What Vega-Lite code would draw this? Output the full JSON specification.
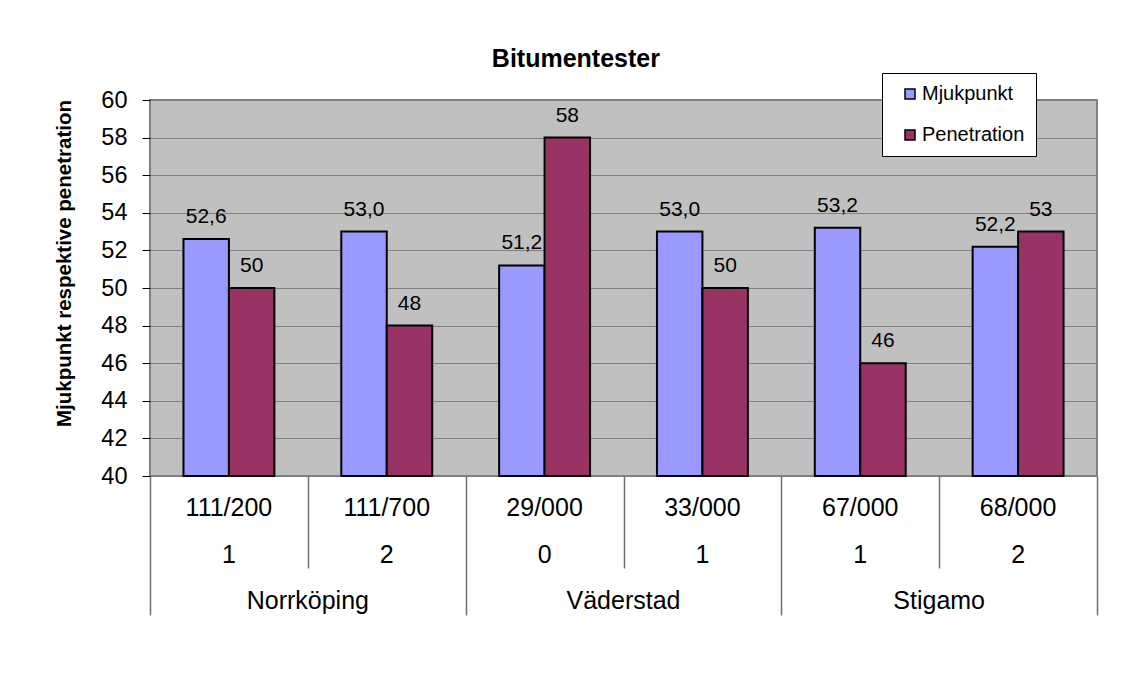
{
  "$schema": "https://vega.github.io/schema/vega-lite/v6.json",
  "width": 947,
  "height": 376,
  "autosize": {"type": "none"},
  "padding": {"left": 150, "top": 100, "right": 38, "bottom": 203},
  "background": "white",
  "title": {
    "text": "Bitumentester",
    "font": "Liberation Sans",
    "fontSize": 25,
    "fontWeight": "bold",
    "color": "black",
    "anchor": "middle",
    "frame": "bounds",
    "offset": 1
  },
  "config": {
    "font": "Liberation Sans",
    "locale": {"number": {"decimal": ",", "thousands": " ", "grouping": [3], "currency": ["", " kr"]}},
    "view": {"fill": "#C0C0C0", "stroke": "#808080", "strokeWidth": 2},
    "axis": {"labelFont": "Liberation Sans", "titleFont": "Liberation Sans", "labelColor": "black", "titleColor": "black"}
  },
  "data": {
    "values": [
      {"city": "Norrköping", "key": "111/200|1", "series": "Mjukpunkt", "value": 52.6},
      {"city": "Norrköping", "key": "111/200|1", "series": "Penetration", "value": 50},
      {"city": "Norrköping", "key": "111/700|2", "series": "Mjukpunkt", "value": 53.0},
      {"city": "Norrköping", "key": "111/700|2", "series": "Penetration", "value": 48},
      {"city": "Väderstad", "key": "29/000|0", "series": "Mjukpunkt", "value": 51.2},
      {"city": "Väderstad", "key": "29/000|0", "series": "Penetration", "value": 58},
      {"city": "Väderstad", "key": "33/000|1", "series": "Mjukpunkt", "value": 53.0},
      {"city": "Väderstad", "key": "33/000|1", "series": "Penetration", "value": 50},
      {"city": "Stigamo", "key": "67/000|1", "series": "Mjukpunkt", "value": 53.2},
      {"city": "Stigamo", "key": "67/000|1", "series": "Penetration", "value": 46},
      {"city": "Stigamo", "key": "68/000|2", "series": "Mjukpunkt", "value": 52.2},
      {"city": "Stigamo", "key": "68/000|2", "series": "Penetration", "value": 53}
    ]
  },
  "layer": [
    {
      "encoding": {
        "x": {
          "field": "key",
          "type": "nominal",
          "sort": null,
          "scale": {"paddingInner": 0.424, "paddingOuter": 0.212},
          "axis": {
            "orient": "bottom",
            "title": null,
            "ticks": false,
            "domain": false,
            "labelAngle": 0,
            "labelExpr": "split(datum.value, '|')",
            "labelFontSize": 25,
            "labelLineHeight": 47,
            "labelPadding": 19
          }
        },
        "xOffset": {"field": "series", "type": "nominal", "sort": ["Mjukpunkt", "Penetration"], "scale": {"paddingInner": 0}},
        "y": {
          "field": "value",
          "type": "quantitative",
          "scale": {"domain": [40, 60], "nice": false, "zero": false},
          "axis": {
            "values": [40, 42, 44, 46, 48, 50, 52, 54, 56, 58, 60],
            "title": "Mjukpunkt respektive penetration",
            "titleFontSize": 20.5,
            "titleFontWeight": "bold",
            "titleAngle": -90,
            "titleAlign": "center",
            "titleBaseline": "middle",
            "titleX": -86,
            "titleY": 163,
            "grid": true,
            "gridColor": "#808080",
            "gridWidth": 1,
            "domain": false,
            "tickColor": "black",
            "tickSize": 8,
            "tickWidth": 1,
            "labelFontSize": 23.5,
            "labelPadding": 15
          }
        }
      },
      "layer": [
        {
          "mark": {"type": "bar", "stroke": "black", "strokeWidth": 2},
          "encoding": {
            "y2": {"datum": 40},
            "color": {
              "field": "series",
              "type": "nominal",
              "scale": {"domain": ["Mjukpunkt", "Penetration"], "range": ["#9999FF", "#993366"]},
              "legend": {
                "title": null,
                "orient": "none",
                "legendX": 732,
                "legendY": -27,
                "direction": "vertical",
                "fillColor": "white",
                "strokeColor": "black",
                "padding": 11,
                "symbolType": "square",
                "symbolSize": 100,
                "symbolStrokeColor": "black",
                "symbolStrokeWidth": 1.5,
                "symbolOffset": 7,
                "labelFont": "Liberation Sans",
                "labelFontSize": 20,
                "labelColor": "black",
                "labelOffset": 2,
                "rowPadding": 21
              }
            }
          }
        },
        {
          "transform": [{"filter": "datum.series === 'Mjukpunkt'"}],
          "mark": {"type": "text", "fontSize": 21, "baseline": "alphabetic", "dy": -16, "color": "black"},
          "encoding": {"text": {"field": "value", "type": "quantitative", "format": ".1f"}}
        },
        {
          "transform": [{"filter": "datum.series === 'Penetration'"}],
          "mark": {"type": "text", "fontSize": 21, "baseline": "alphabetic", "dy": -16, "color": "black"},
          "encoding": {"text": {"field": "value", "type": "quantitative", "format": "d"}}
        }
      ]
    },
    {
      "mark": {"type": "rule", "opacity": 0},
      "encoding": {
        "x": {
          "datum": 0,
          "type": "quantitative",
          "scale": {"domain": [0, 6], "nice": false, "zero": false},
          "axis": {
            "orient": "bottom",
            "values": [0, 1, 2, 3, 4, 5, 6],
            "labels": false,
            "domain": false,
            "grid": false,
            "title": null,
            "tickColor": "#707070",
            "tickWidth": 1.5,
            "tickSize": {"condition": {"test": "datum.value % 2 === 0", "value": 139}, "value": 92}
          }
        }
      }
    },
    {
      "mark": {"type": "point", "opacity": 0},
      "encoding": {
        "x": {
          "field": "city",
          "type": "nominal",
          "sort": null,
          "scale": {"type": "band", "padding": 0},
          "axis": {
            "orient": "bottom",
            "title": null,
            "ticks": false,
            "domain": false,
            "labelAngle": 0,
            "labelFontSize": 25,
            "labelPadding": 112
          }
        }
      }
    }
  ],
  "resolve": {"scale": {"x": "independent"}}
}
